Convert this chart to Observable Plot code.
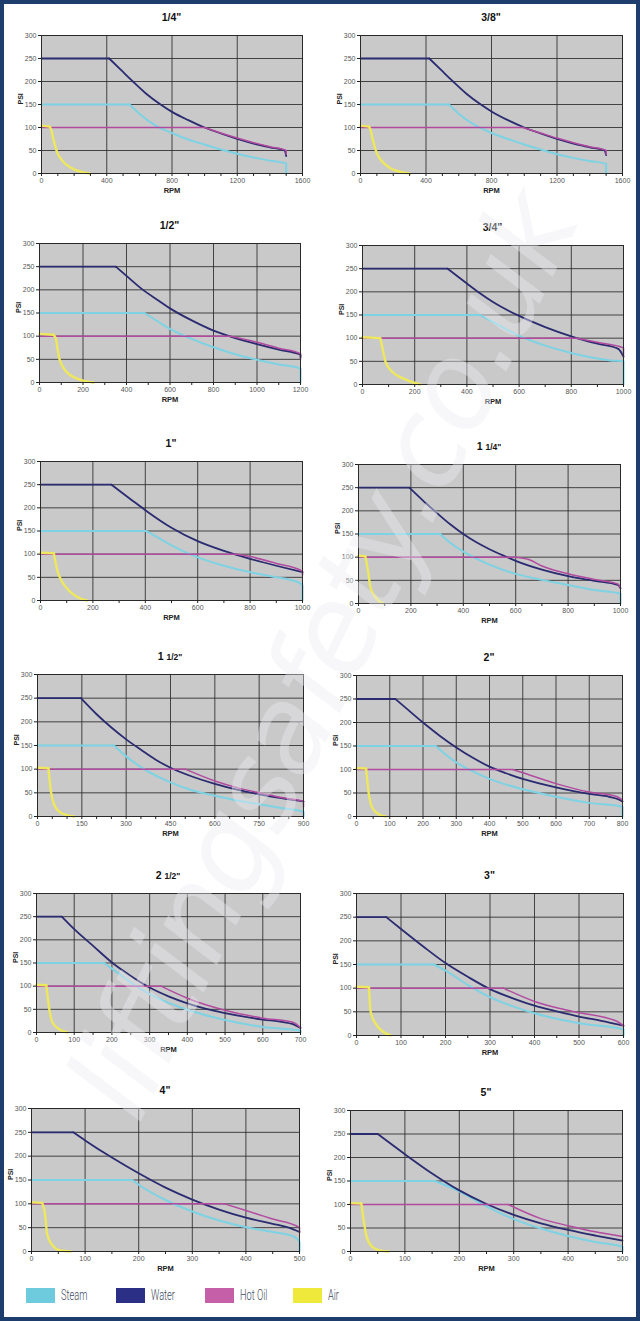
<!DOCTYPE html>
<html><head><meta charset="utf-8">
<script src="https://cdn.jsdelivr.net/npm/d3@7"></script>
<script src="https://cdn.jsdelivr.net/npm/@observablehq/plot@0.6"></script>
<style>
html,body{margin:0;padding:0;background:#fff;}
#page{position:relative;width:640px;height:1321px;overflow:hidden;background:#fff;font-family:"Liberation Sans",Arial,sans-serif;}
#border{position:absolute;left:0;top:0;width:640px;height:1321px;box-sizing:border-box;border:4px solid #1d3e6c;pointer-events:none;z-index:10;}
.title{position:absolute;transform:translate(-50%,-50%);font-weight:bold;font-size:10.5px;color:#111;white-space:nowrap;}
.title .frac{font-size:8.5px}
.panel{position:absolute;}
.panel svg{overflow:visible;}
.sw{position:absolute;width:29px;height:15px;}
.lt{position:absolute;font-family:Roboto,"Liberation Sans",sans-serif;font-weight:300;font-size:14px;color:#3d4862;line-height:15px;transform:scaleX(0.66);transform-origin:0 50%;white-space:nowrap;}
#wm{position:absolute;left:322px;top:655px;transform:translate(-50%,-50%) rotate(-64deg);font-family:"DejaVu Sans",sans-serif;font-style:italic;font-size:120px;color:rgba(236,236,242,0.42);white-space:nowrap;z-index:5;pointer-events:none;letter-spacing:-3px;}
</style></head><body><div id="page"><div id="border"></div></div>
<script>
// ---- data ----
const sizes = ["1/4\"", "3/8\"", "1/2\"", "3/4\"", "1\"", "1 1/4\"", "1 1/2\"", "2\"", "2 1/2\"", "3\"", "4\"", "5\""];
const rpmMax = [1600, 1600, 1200, 1000, 1000, 1000, 900, 800, 700, 600, 500, 500];
const rpmStep = [400, 400, 200, 200, 200, 200, 150, 100, 100, 100, 100, 100];
const minorStep = [100, 100, 100, 100, 100, 100, 50, 50, 50, 50, 50, 50];
const psiTicks = [0, 50, 100, 150, 200, 250, 300];
const seriesNames = ["Steam", "Water", "Hot Oil", "Air"];
const watermark = "liftingsafety.co.uk";

// [RPM, PSI] per panel
const steam = [
  [[0,150],[540,150],[600,130],[700,104],[800,88],[900,74],[1000,63],[1100,52],[1200,43],[1300,35],[1400,28],[1500,22],[1500,0]],
  [[0,150],[540,150],[600,130],[700,105],[800,88],[900,75],[1000,63],[1100,52],[1200,42],[1300,34],[1400,27],[1500,21],[1500,0]],
  [[0,150],[483,150],[550,130],[600,116],[700,94],[800,76],[900,61],[1000,49],[1100,39],[1200,30],[1200,0]],
  [[0,150],[451,150],[500,135],[600,105],[700,84],[800,68],[900,56],[950,52],[1000,50],[1000,0]],
  [[0,150],[404,150],[450,135],[500,119],[600,93],[700,75],[800,61],[900,50],[950,45],[980,40],[1000,33],[1000,0]],
  [[0,150],[312,150],[350,131],[400,112],[450,97],[500,84],[600,64],[700,51],[800,40],[900,29],[1000,21],[1000,0]],
  [[0,150],[259,150],[300,127],[361,100],[450,72],[525,55],[600,44],[675,34],[750,26],[825,18],[900,10],[900,0]],
  [[0,150],[238,150],[300,115],[350,96],[400,80],[500,58],[600,42],[700,29],[800,21],[800,0]],
  [[0,150],[179,150],[200,138],[250,108],[300,83],[350,64],[400,49],[500,27],[600,12],[700,4],[700,0]],
  [[0,150],[174,150],[200,137],[250,107],[300,81],[350,62],[400,47],[500,26],[600,13],[600,0]],
  [[0,150],[188,150],[200,140],[250,108],[300,84],[350,65],[400,51],[450,41],[490,31],[500,20],[500,0]],
  [[0,150],[155,150],[200,128],[250,96],[300,69],[350,49],[400,33],[450,20],[500,10],[500,0]]
];
const water = [
  [[0,250],[415,250],[490,224],[560,200],[640,174],[730,150],[800,134],[900,116],[1000,100],[1100,87],[1200,75],[1300,65],[1400,57],[1490,50],[1500,38]],
  [[0,250],[420,250],[495,224],[565,200],[645,174],[735,150],[800,135],[900,116],[1000,100],[1100,87],[1200,75],[1300,65],[1400,57],[1490,50],[1500,40]],
  [[0,250],[351,250],[400,230],[470,202],[550,176],[600,160],[700,134],[800,112],[900,96],[1000,83],[1100,71],[1200,60],[1200,55]],
  [[0,250],[326,250],[400,218],[450,197],[500,178],[600,148],[700,124],[800,104],[900,88],[980,77],[1000,60]],
  [[0,250],[271,250],[350,216],[400,195],[500,157],[600,128],[700,107],[800,90],[900,75],[1000,61]],
  [[0,250],[194,250],[250,220],[300,195],[350,171],[400,150],[450,132],[500,117],[567,100],[600,92],[700,73],[800,59],[900,49],[990,40],[1000,33]],
  [[0,250],[147,250],[200,216],[250,188],[300,163],[350,141],[400,120],[450,103],[525,84],[600,69],[675,57],[750,47],[825,39],[900,32]],
  [[0,250],[117,250],[150,230],[200,200],[250,172],[300,147],[350,125],[400,106],[450,92],[500,80],[600,62],[700,48],[760,42],[790,36],[800,32]],
  [[0,250],[67,250],[100,223],[150,187],[200,151],[250,122],[300,97],[350,78],[400,63],[450,51],[500,42],[600,28],[650,23],[680,18],[700,10]],
  [[0,250],[67,250],[100,225],[150,188],[200,153],[250,124],[300,98],[350,79],[400,63],[450,51],[500,40],[550,31],[600,21]],
  [[0,250],[78,250],[100,233],[150,197],[200,164],[250,134],[300,109],[350,88],[400,71],[450,58],[480,50],[500,41]],
  [[0,250],[50,250],[100,207],[150,166],[200,130],[250,101],[300,78],[350,60],[400,46],[450,34],[500,23]]
];
const hotOil = [
  [[0,100],[1000,100],[1100,88],[1200,77],[1300,67],[1400,58],[1500,50],[1500,42]],
  [[0,100],[990,100],[1100,88],[1200,77],[1300,67],[1400,58],[1500,50],[1500,42]],
  [[0,100],[880,100],[1000,87],[1100,74],[1200,62],[1200,50]],
  [[0,100],[820,100],[900,91],[1000,79],[1000,60]],
  [[0,100],[750,100],[800,95],[900,80],[1000,63],[1000,55]],
  [[0,100],[600,100],[650,95],[700,81],[800,64],[900,52],[990,42],[1000,33]],
  [[0,100],[500,100],[600,75],[675,61],[750,50],[825,40],[900,32],[900,20]],
  [[0,100],[470,100],[500,93],[600,70],[700,52],[780,43],[800,35]],
  [[0,100],[330,100],[400,74],[500,48],[600,31],[680,22],[700,10]],
  [[0,100],[330,100],[400,72],[490,50],[585,30],[600,20]],
  [[0,100],[360,100],[400,86],[450,68],[500,50],[500,40]],
  [[0,100],[290,100],[350,70],[400,55],[450,42],[500,32]]
];
const air = [
  [[0,104],[50,102],[60,95],[75,72],[96,46],[127,28],[178,13],[240,4],[297,0]],
  [[0,104],[52,102],[62,94],[76,72],[98,46],[130,27],[180,12],[240,4],[300,0]],
  [[0,105],[64,103],[75,95],[82,75],[92,50],[126,22],[170,9],[200,4],[249,0]],
  [[0,102],[68,100],[77,77],[89,48],[115,27],[160,12],[220,0]],
  [[0,103],[51,102],[64,65],[83,40],[115,18],[153,4],[178,0]],
  [[0,103],[26,102],[38,65],[45,36],[64,14],[95,0]],
  [[0,103],[37,102],[45,54],[56,26],[79,8],[124,0]],
  [[0,103],[29,102],[37,48],[47,19],[67,5],[87,0]],
  [[0,103],[26,102],[34,50],[42,22],[60,7],[82,0]],
  [[0,103],[28,102],[32,49],[43,25],[58,9],[77,0]],
  [[0,103],[20,102],[26,72],[29,37],[39,13],[54,2],[73,0]],
  [[0,103],[20,102],[25,60],[30,30],[40,10],[55,2],[70,0]]
];

// ---- layout (page pixels of each plot frame) ----
const plotLeft   = [41,360, 39,362, 40,358, 37,356, 36,356, 31,350];
const plotRight  = [302,622, 300,623, 302,620, 303,622, 300,623, 299,622];
const plotTop    = [35,35, 243,245, 461,464, 674,675, 893,893, 1108,1110];
const plotBottom = [173,173, 382,384, 600,603, 816,816, 1032,1035, 1251,1251];

const lineColors = ["#7dd2e3", "#2a2b70", "#b24ba0", "#eee85c"];
const lineWidths = [2, 1.8, 1.5, 2.4];
const legendColors = ["#6ecbdd", "#2b2f86", "#c45fa8", "#efe93c"];

const page = document.getElementById("page");
const seriesData = [steam, water, hotOil, air];

// split a series at the end of its flat opening run (sharp knee), rest drawn smooth
function splitAtKnee(pts) {
  let k = 0;
  while (k + 1 < pts.length && Math.abs(pts[k + 1][1] - pts[0][1]) <= 2) k++;
  return [pts.slice(0, k + 1), pts.slice(k)];
}

sizes.forEach((title, i) => {
  const colX = (i % 2) * 320;
  const L = plotLeft[i], R = plotRight[i], T = plotTop[i], B = plotBottom[i];
  const mt = 10, mb = 30;
  const majors = d3.range(0, rpmMax[i] + 1, rpmStep[i]);
  const minors = d3.range(0, rpmMax[i] + 1, minorStep[i]).filter(v => !majors.includes(v));
  const lineMarks = [];
  seriesNames.forEach((name, s) => {
    const [flat, curved] = splitAtKnee(seriesData[s][i]);
    const toRows = pts => pts.map(([rpm, psi]) => ({series: name, rpm, psi}));
    const opts = {x: "rpm", y: "psi", stroke: lineColors[s], strokeWidth: lineWidths[s], strokeLinejoin: "round", strokeLinecap: "round"};
    lineMarks.push(Plot.line(toRows(flat), {...opts, curve: "linear"}));
    lineMarks.push(Plot.line(toRows(curved), {...opts, curve: "monotone-x"}));
  });
  const chart = Plot.plot({
    width: 320, height: B - T + mt + mb,
    marginLeft: L - colX, marginRight: colX + 320 - R, marginTop: mt, marginBottom: mb,
    x: {domain: [0, rpmMax[i]]},
    y: {domain: [0, 300]},
    style: {fontFamily: "'Liberation Sans', Arial, sans-serif", fontSize: "7px", color: "#555", background: "transparent"},
    marks: [
      Plot.frame({fill: "#c9c9c9"}),
      Plot.gridX(majors, {stroke: "#2a2a2a", strokeOpacity: 0.85}),
      Plot.gridY(psiTicks, {stroke: "#2a2a2a", strokeOpacity: 0.85}),
      ...lineMarks,
      Plot.frame({stroke: "#2a2a2a", strokeWidth: 1}),
      Plot.axisX(majors, {tickSize: 3, tickPadding: 2, label: null, tickFormat: d => String(d), fill: "#555", stroke: "#222"}),
      Plot.axisX(minors, {tickSize: 3, label: null, tickFormat: () => "", stroke: "#222"}),
      Plot.axisY(psiTicks, {tickSize: 3, tickPadding: 2, label: null, tickFormat: d => String(d), fill: "#555", stroke: "#222"}),
      Plot.text(["PSI"], {text: d => d, frameAnchor: "left", dx: -21, rotate: -90, fontWeight: "bold", fill: "#222", fontSize: 7}),
      Plot.text(["RPM"], {text: d => d, frameAnchor: "bottom", dy: 19, fontWeight: "bold", fill: "#222", fontSize: 7.5})
    ]
  });
  const wrap = document.createElement("div");
  wrap.className = "panel";
  wrap.style.left = colX + "px";
  wrap.style.top = (T - mt) + "px";
  wrap.appendChild(chart);
  page.appendChild(wrap);

  const t = document.createElement("div");
  t.className = "title";
  t.style.left = ((L + R) / 2) + "px";
  t.style.top = (T - 18) + "px";
  const parts = title.split(" ");
  if (parts.length > 1) {
    t.innerHTML = parts[0] + " <span class='frac'>" + parts[1] + "</span>";
  } else {
    t.textContent = title;
  }
  page.appendChild(t);
});

// ---- legend ----
const swLeft = [26, 116, 205, 293];
seriesNames.forEach((name, s) => {
  const sw = document.createElement("div");
  sw.className = "sw";
  sw.style.left = swLeft[s] + "px";
  sw.style.top = "1288px";
  sw.style.background = legendColors[s];
  page.appendChild(sw);
  const lt = document.createElement("div");
  lt.className = "lt";
  lt.style.left = (swLeft[s] + 35) + "px";
  lt.style.top = "1288px";
  lt.textContent = name;
  page.appendChild(lt);
});

// ---- watermark ----
const wm = document.createElement("div");
wm.id = "wm";
wm.textContent = watermark;
page.appendChild(wm);
</script>
</body></html>
